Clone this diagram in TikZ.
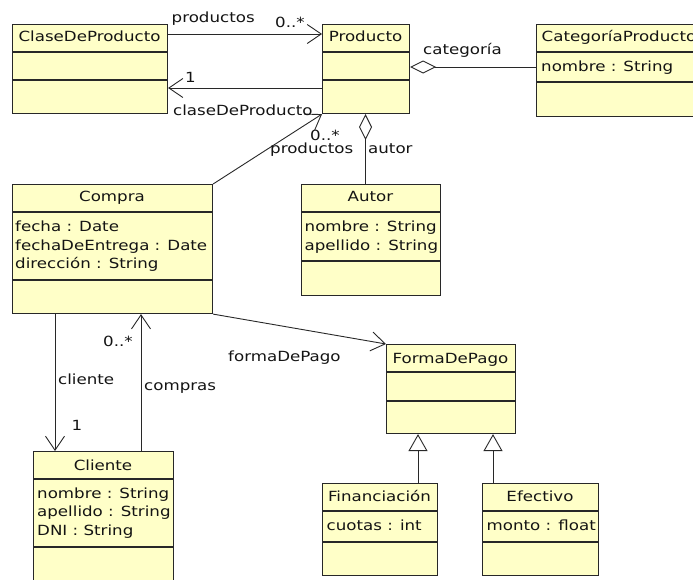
\documentclass[tikz,border=0pt]{standalone}
\usepackage{fontspec}
\setmainfont{DejaVu Sans}[FakeStretch=1.19]
\usetikzlibrary{arrows.meta,calc}
\definecolor{boxfill}{RGB}{255,255,200}
\definecolor{inkc}{RGB}{40,40,40}
\definecolor{textc}{RGB}{20,20,20}

% class box: name, x, y (top left), width, height, first divider, second divider
\newcommand\umlclass[7]{%
  \node[classbox, minimum width=#4pt, minimum height=#5pt] (#1) at (#2,#3) {};
  \draw[frame] ($(#1.north west)+(0,#6)$) -- ($(#1.north east)+(0,#6)$);
  \draw[frame] ($(#1.north west)+(0,#7)$) -- ($(#1.north east)+(0,#7)$);
}

\begin{document}
\begin{tikzpicture}[x=1pt,y=-1pt,
  font=\fontsize{14pt}{18pt}\selectfont,
  classbox/.style={draw=inkc, fill=boxfill, line width=1.1pt, inner sep=0pt, anchor=north west},
  frame/.style={draw=inkc, line width=1.1pt},
  lbl/.style={inner sep=0pt, anchor=base west, text=textc},
  ttl/.style={inner sep=0pt, anchor=base, text=textc},
  assoc/.style={draw=inkc, line width=0.9pt},
  nav/.style={assoc, -{Straight Barb[length=14pt,width=19pt]}},
  agg/.style={assoc, {Diamond[open, length=26pt, width=13pt]}-},
  gen/.style={assoc, -{Triangle[open, length=17pt, width=19pt]}}]
\useasboundingbox (0,0) rectangle (693,579);
\clip (0,0) rectangle (693,579);
\fill[white] (0,0) rectangle (693,579);

% classes
\umlclass{cdp}{12}{24}{155}{89}{28}{56}
\umlclass{prod}{322}{24}{87}{89}{28}{56}
\umlclass{cat}{536}{24}{200}{92}{28}{58}
\umlclass{compra}{12}{184}{200}{129}{28}{96}
\umlclass{autor}{301}{184}{139}{111}{28}{77}
\umlclass{pago}{386}{344}{129}{89}{28}{57}
\umlclass{fin}{322}{483}{115}{92}{28}{59}
\umlclass{efec}{482}{483}{116}{92}{28}{59}
\umlclass{cli}{33}{451}{140}{160}{28}{96}

% class names
\node[ttl] (tcdp) at (89.5,41) {ClaseDeProducto};
\node[ttl] (tprod) at (365.5,41) {Producto};
\node[lbl] (tcat) at (541.5,41) {CategoríaProducto};
\node[ttl] (tcompra) at (112,201.5) {Compra};
\node[ttl] (tautor) at (370.5,201.5) {Autor};
\node[ttl] (tpago) at (450.5,363) {FormaDePago};
\node[ttl] (tfin) at (379.5,501.5) {Financiación};
\node[ttl] (tefec) at (540,501.5) {Efectivo};
\node[ttl] (tcli) at (103,470) {Cliente};

% attributes
\node[lbl] (acat) at (541,71.5) {nombre : String};
\node[lbl] (acompra1) at (15,231.7) {fecha : Date};
\node[lbl] (acompra2) at (15,250) {fechaDeEntrega : Date};
\node[lbl] (acompra3) at (15,268.3) {dirección : String};
\node[lbl] (aautor1) at (304.5,231.7) {nombre : String};
\node[lbl] (aautor2) at (304.5,250) {apellido : String};
\node[lbl] (acli1) at (37,498.3) {nombre : String};
\node[lbl] (acli2) at (37,516.7) {apellido : String};
\node[lbl] (acli3) at (37,535) {DNI : String};
\node[lbl] (afin) at (326.5,530) {cuotas : int};
\node[lbl] (aefec) at (486.5,530) {monto : float};

% associations
\draw[nav] ($(cdp.north east)+(0,10)$) -- ($(prod.north west)+(0,10)$);
\draw[nav] ($(prod.north west)+(0,64)$) -- ($(cdp.north east)+(0,64)$);
\draw[agg] ($(prod.north east)+(0,43)$) -- ($(cat.north west)+(0,43)$);
\draw[agg] (prod.south -| autor.north) ++(-5.5,0) coordinate (pa) -- (pa |- autor.north);
\draw[nav] (compra.north east) -- (prod.south west);
\draw[nav] (compra.south east) -- (pago.north west);
\draw[nav] ($(compra.south west)+(43,0)$) coordinate (cl1) -- (cl1 |- cli.north);
\draw[nav] ($(cli.north west)+(108,0)$) coordinate (cl2) -- (cl2 |- compra.south);
\draw[gen] ($(fin.north west)+(96,0)$) coordinate (g1) -- (g1 |- pago.south);
\draw[gen] ($(efec.north west)+(11,0)$) coordinate (g2) -- (g2 |- pago.south);

% association labels
\node[lbl] (l1) at (171.5,22) {productos};
\node[lbl] (l2) at (275,27.5) {0..*};
\node[lbl] (l3) at (185,82) {1};
\node[lbl] (l4) at (173,115) {claseDeProducto};
\node[lbl] (l5) at (423,54) {categoría};
\node[lbl] (l6) at (310,140.5) {0..*};
\node[lbl] (l7) at (270,153) {productos};
\node[lbl] (l8) at (368,153) {autor};
\node[lbl] (l9) at (228,361.5) {formaDePago};
\node[lbl] (l10) at (103,346.5) {0..*};
\node[lbl] (l11) at (58,384) {cliente};
\node[lbl] (l12) at (144,390) {compras};
\node[lbl] (l13) at (71.5,430) {1};
\end{tikzpicture}
\end{document}
